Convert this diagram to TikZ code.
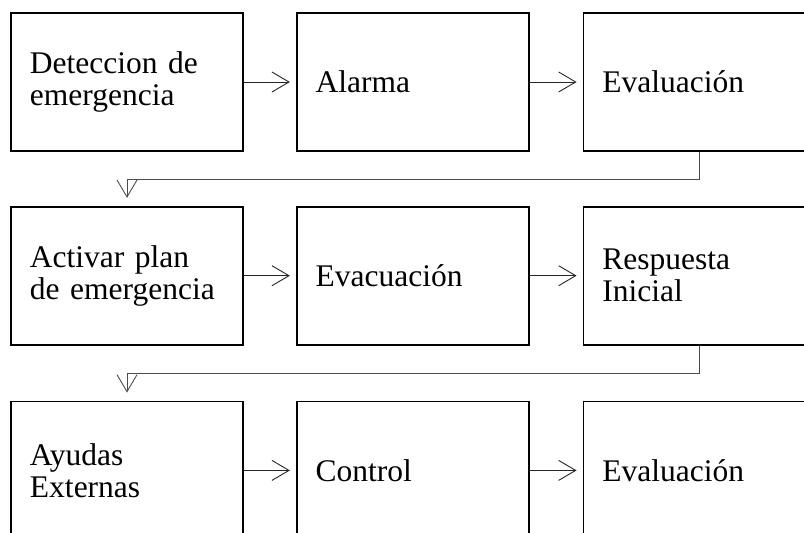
\documentclass[tikz,border=0pt]{standalone}
\usepackage{fontspec}
\setmainfont{Liberation Serif}
\usepackage{tikz}
\usetikzlibrary{arrows.meta, positioning}

\begin{document}
\begin{tikzpicture}[
    x=1pt, y=1pt,
    node distance=52pt,
    box/.style={rectangle, draw, line width=1.7pt, minimum width=232pt, minimum height=138pt,
      text width=194pt, align=left, inner sep=0pt, font=\fontsize{31.5}{32}\selectfont},
    flow/.style={draw=black!85, line width=0.9pt, -{Straight Barb[length=17pt, width=20pt]}, shorten >=6pt},
    back/.style={flow, draw=black!70, shorten >=8pt}
  ]
  \useasboundingbox (0,0) rectangle (804,-533);

  % first row
  \node[box] (deteccion) at (127,-82) {Deteccion de\\emergencia};
  \node[box, right=of deteccion] (alarma) {Alarma};
  \node[box, right=53pt of alarma] (evaluacion) {Evaluación};

  % second row
  \node[box, below=54pt of deteccion] (activar) {Activar plan\\de emergencia};
  \node[box, right=of activar] (evacuacion) {Evacuación};
  \node[box, right=53pt of evacuacion] (respuesta) {Respuesta\\Inicial};

  % third row
  \node[box, below=55pt of activar] (ayudas) {Ayudas\\Externas};
  \node[box, right=of ayudas] (control) {Control};
  \node[box, right=53pt of control] (evalfinal) {Evaluación};

  \draw[flow] (deteccion) -- (alarma);
  \draw[flow] (alarma) -- (evaluacion);
  \draw[back] (evaluacion.south) -- ++(0,-28) -| (activar.north);
  \draw[flow] (activar) -- (evacuacion);
  \draw[flow] (evacuacion) -- (respuesta);
  \draw[back] (respuesta.south) -- ++(0,-28) -| (ayudas.north);
  \draw[flow] (ayudas) -- (control);
  \draw[flow] (control) -- (evalfinal);
\end{tikzpicture}
\end{document}
